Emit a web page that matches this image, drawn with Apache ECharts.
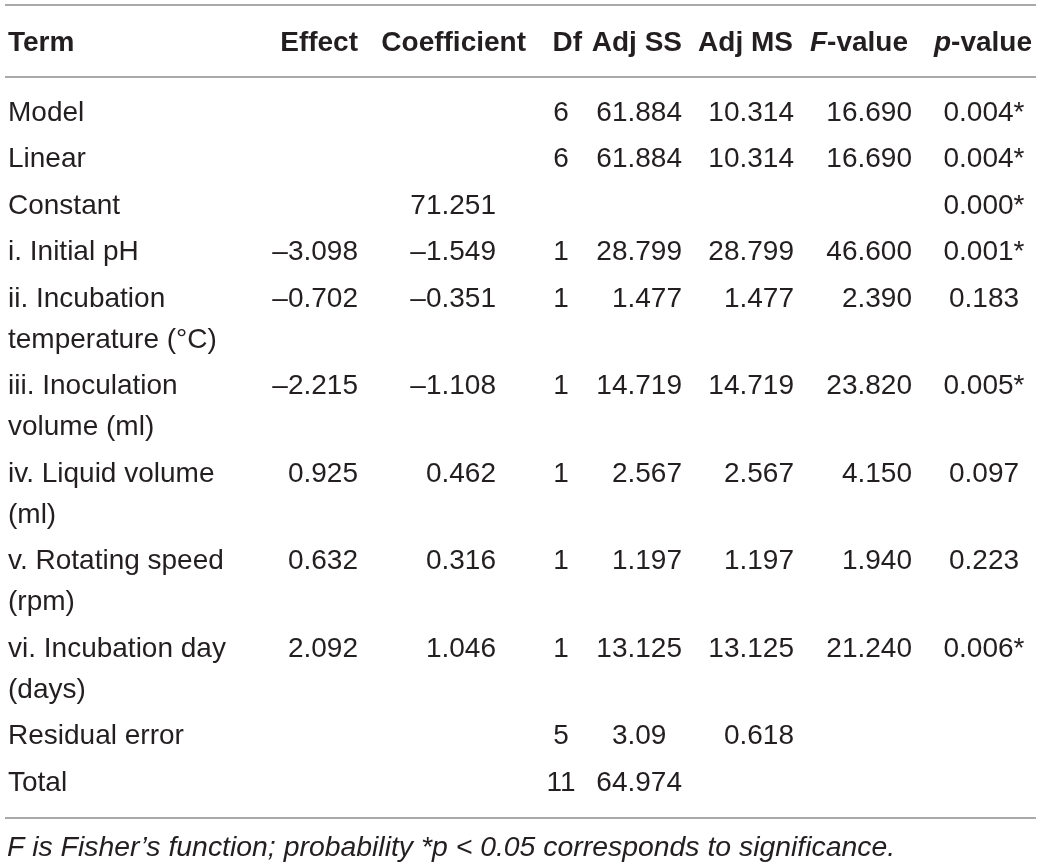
<!DOCTYPE html>
<html>
<head>
<meta charset="utf-8">
<script src="https://cdn.jsdelivr.net/npm/echarts@6/dist/echarts.min.js"></script>
<style>
  html, body { margin: 0; padding: 0; background: #fff; }
  #main { width: 1043px; height: 867px; }
</style>
</head>
<body>
<div id="main"></div>
<script>
// table content
const terms = [
  'Model', 'Linear', 'Constant', 'i. Initial pH',
  'ii. Incubation\ntemperature (°C)', 'iii. Inoculation\nvolume (ml)',
  'iv. Liquid volume\n(ml)', 'v. Rotating speed\n(rpm)', 'vi. Incubation day\n(days)',
  'Residual error', 'Total'
];
const effect      = ['', '', '', '–3.098', '–0.702', '–2.215', '0.925', '0.632', '2.092', '', ''];
const coefficient = ['', '', '71.251', '–1.549', '–0.351', '–1.108', '0.462', '0.316', '1.046', '', ''];
const df          = ['6', '6', '', '1', '1', '1', '1', '1', '1', '5', '11'];
const adjSS       = ['61.884', '61.884', '', '28.799', '1.477', '14.719', '2.567', '1.197', '13.125', '3.09', '64.974'];
const adjMS       = ['10.314', '10.314', '', '28.799', '1.477', '14.719', '2.567', '1.197', '13.125', '0.618', ''];
const fValue      = ['16.690', '16.690', '', '46.600', '2.390', '23.820', '4.150', '1.940', '21.240', '', ''];
const pValue      = ['0.004*', '0.004*', '0.000*', '0.001*', '0.183', '0.005*', '0.097', '0.223', '0.006*', '', ''];
const headers = ['Term', 'Effect', 'Coefficient', 'Df', 'Adj SS', 'Adj MS', '{i|F}-value', '{i|p}-value'];
const footnote = 'F is Fisher’s function; probability *p < 0.05 corresponds to significance.';

// layout (axis units = page pixels)
const FONT = '"Liberation Sans", Arial, sans-serif';
const SIZE = 28;
const TEXT = '#231f20';
const columns = [
  { values: terms,       x: 8,   mode: 'left',    hx: 8,    halign: 'left' },
  { values: effect,      x: 358, mode: 'decimal', hx: 358,  halign: 'right' },
  { values: coefficient, x: 496, mode: 'decimal', hx: 526,  halign: 'right' },
  { values: df,          x: 561, mode: 'center',  hx: 582,  halign: 'right' },
  { values: adjSS,       x: 682, mode: 'decimal', hx: 682,  halign: 'right' },
  { values: adjMS,       x: 794, mode: 'decimal', hx: 793,  halign: 'right' },
  { values: fValue,      x: 912, mode: 'decimal', hx: 908,  halign: 'right' },
  { values: pValue,      x: 984, mode: 'center',  hx: 1032, halign: 'right' }
];
const headerY = 43;
const firstRowY = 113;
const rowStep = 46.5;
const lineStep = 41;
const rules = [5, 77, 818];
const footY = 848;

// measure width of a 3-decimal fraction to locate the decimal point
const ctx = document.createElement('canvas').getContext('2d');
ctx.font = SIZE + 'px ' + FONT;
const fracW = ctx.measureText('.000').width;

// row centres from each term's line count
const rowY = [];
terms.forEach((t, i) => {
  if (i === 0) rowY.push(firstRowY);
  else rowY.push(rowY[i - 1] + rowStep + lineStep * (terms[i - 1].split('\n').length - 1));
});

const cells = [];
columns.forEach((col, c) => {
  cells.push({ x: col.hx, y: headerY, text: headers[c], align: col.halign, bold: true });
  col.values.forEach((v, r) => {
    if (!v) return;
    if (col.mode === 'left') {
      v.split('\n').forEach((ln, k) => cells.push({ x: col.x, y: rowY[r] + k * lineStep, text: ln, align: 'left' }));
    } else if (col.mode === 'center') {
      cells.push({ x: col.x, y: rowY[r], text: v, align: 'center' });
    } else {
      const dot = v.indexOf('.');
      const dx = col.x - fracW;
      cells.push({ x: dx, y: rowY[r], text: v.slice(0, dot), align: 'right' });
      cells.push({ x: dx, y: rowY[r], text: v.slice(dot), align: 'left' });
    }
  });
});
cells.push({ x: 7, y: footY, text: footnote, align: 'left', italic: true, size: 28.4 });

const chart = echarts.init(document.getElementById('main'));
chart.setOption({
  animation: false,
  grid: { left: 0, right: 0, top: 0, bottom: 0 },
  xAxis: { type: 'value', min: 0, max: 1043, show: false },
  yAxis: { type: 'value', min: 0, max: 867, inverse: true, show: false },
  series: [
    {
      type: 'custom',
      clip: false,
      data: rules.map(y => [5, 1036, y]),
      renderItem: (params, api) => {
        const a = api.coord([api.value(0), api.value(2)]);
        const b = api.coord([api.value(1), api.value(2)]);
        return {
          type: 'line',
          shape: { x1: a[0], y1: a[1], x2: b[0], y2: b[1] },
          style: { stroke: '#8c8c8c', lineWidth: 1.5 }
        };
      }
    },
    {
      type: 'custom',
      clip: false,
      data: cells.map(c => [c.x, c.y]),
      renderItem: (params, api) => {
        const cell = cells[params.dataIndex];
        const p = api.coord([api.value(0), api.value(1)]);
        const weight = cell.bold ? 'bold' : 'normal';
        const size = cell.size || SIZE;
        return {
          type: 'text',
          x: p[0],
          y: p[1],
          style: {
            text: cell.text,
            fill: TEXT,
            font: (cell.italic ? 'italic ' : '') + weight + ' ' + size + 'px ' + FONT,
            align: cell.align,
            verticalAlign: 'middle',
            textAlign: cell.align,
            textVerticalAlign: 'middle',
            rich: {
              i: { fontStyle: 'italic', fontWeight: weight, fontSize: size, fontFamily: FONT, color: TEXT }
            }
          }
        };
      }
    }
  ]
});
</script>
</body>
</html>
